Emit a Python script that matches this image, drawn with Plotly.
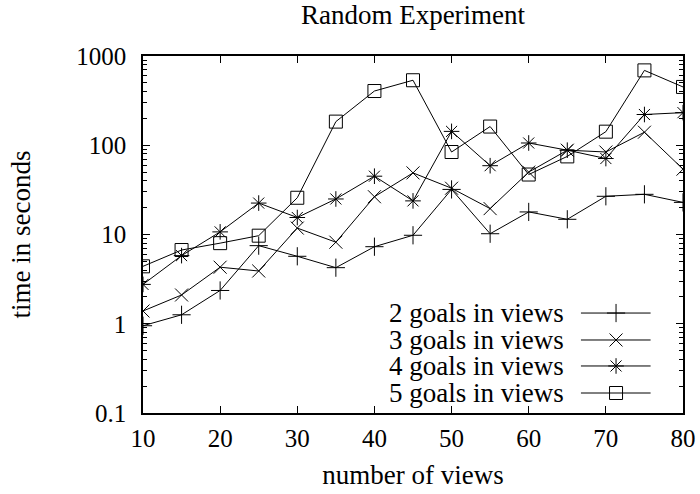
import plotly.graph_objects as go

# ---- data ----
views = [10, 15, 20, 25, 30, 35, 40, 45, 50, 55, 60, 65, 70, 75, 80]
goals2 = [0.95, 1.26, 2.36, 7.5, 5.7, 4.25, 7.3, 9.8, 32, 10.2, 17.9, 14.8, 26.8, 28.2, 22.9]
goals3 = [1.39, 2.1, 4.3, 3.9, 11.8, 8.2, 26.5, 49, 33, 19.5, 50, 88, 84, 140, 54]
goals4 = [2.76, 5.8, 10.7, 22.5, 15.5, 25, 45, 23.8, 143, 59, 106, 88, 71, 221, 232]
goals5 = [4.4, 6.7, 8.0, 9.7, 25.8, 184, 405, 535, 84, 162, 47, 75, 142, 690, 450]

series_names = ["2 goals in views", "3 goals in views", "4 goals in views", "5 goals in views"]
series_values = [goals2, goals3, goals4, goals5]
series_symbols = ["cross-thin-open", "x-thin-open", "asterisk-open", "square-open"]
series_sizes = [13, 13, 13, 13]

y_tickvals = [0.1, 1, 10, 100, 1000]
y_ticktext = ["0.1", "1", "10", "100", "1000"]
x_tickvals = [10, 20, 30, 40, 50, 60, 70, 80]
x_ticktext = ["10", "20", "30", "40", "50", "60", "70", "80"]

FONT = "Liberation Serif"
FS_TICK = 25
FS_TEXT = 27

fig = go.Figure()

for name, vals, sym, sz in zip(series_names, series_values, series_symbols, series_sizes):
    fig.add_trace(go.Scatter(
        x=views, y=vals, name=name, mode="lines+markers",
        line=dict(color="black", width=1),
        marker=dict(symbol=sym, size=sz, color="black", line=dict(color="black", width=1)),
        showlegend=False,
    ))

# ---- gnuplot-style key (text left, sample right) on an overlay axis ----
key_rows = [0.280, 0.2045, 0.1317, 0.056]
key_text_x = 0.784
key_line_x0, key_line_x1, key_mark_x = 0.811, 0.940, 0.876
for name, sym, sz, ky in zip(series_names, series_symbols, series_sizes, key_rows):
    fig.add_trace(go.Scatter(
        x=[key_line_x0, key_line_x1], y=[ky, ky], mode="lines",
        line=dict(color="black", width=1), xaxis="x2", yaxis="y2",
        showlegend=False, hoverinfo="skip",
    ))
    fig.add_trace(go.Scatter(
        x=[key_mark_x], y=[ky], mode="markers",
        marker=dict(symbol=sym, size=sz, color="black", line=dict(color="black", width=1)),
        xaxis="x2", yaxis="y2", showlegend=False, hoverinfo="skip",
    ))
    fig.add_annotation(
        x=key_text_x, y=ky, xref="paper", yref="paper", text=name,
        showarrow=False, xanchor="right", yanchor="middle",
        font=dict(family=FONT, size=FS_TEXT, color="black"),
    )

axis_common = dict(
    showline=True, linecolor="black", linewidth=1.5, mirror="allticks",
    ticks="inside", tickcolor="black", tickwidth=1, ticklen=7,
    showgrid=False, zeroline=False,
    tickfont=dict(family=FONT, size=FS_TICK, color="black"),
)

W, H = 700, 494
fig.update_layout(
    width=W, height=H,
    margin=dict(l=143, r=17, t=56, b=81),
    paper_bgcolor="white", plot_bgcolor="white",
    font=dict(family=FONT, size=FS_TEXT, color="black"),
    title=dict(text="Random Experiment", x=0.5, xanchor="center", xref="paper",
               y=1 - 15 / H, yanchor="middle", yref="container",
               font=dict(family=FONT, size=FS_TEXT, color="black")),
    xaxis=dict(
        range=[10, 80], tickvals=x_tickvals, ticktext=x_ticktext,
        ticklabelstandoff=2,
        title=dict(text="number of views", standoff=14,
                   font=dict(family=FONT, size=FS_TEXT, color="black")),
        automargin=False,
        **axis_common,
    ),
    yaxis=dict(
        type="log", range=[-1, 3], tickvals=y_tickvals, ticktext=y_ticktext,
        ticklabelstandoff=10,
        minor=dict(ticks="inside", ticklen=4, tickcolor="black", tickwidth=1, dtick="D1", showgrid=False),
        title=dict(text="time in seconds", standoff=38,
                   font=dict(family=FONT, size=FS_TEXT, color="black")),
        automargin=False,
        **axis_common,
    ),
    xaxis2=dict(range=[0, 1], overlaying="x", visible=False, fixedrange=True),
    yaxis2=dict(range=[0, 1], overlaying="y", visible=False, fixedrange=True),
)

fig.write_html("out.html", config={"displayModeBar": False},
               post_script="document.body.style.margin = '0px';")
